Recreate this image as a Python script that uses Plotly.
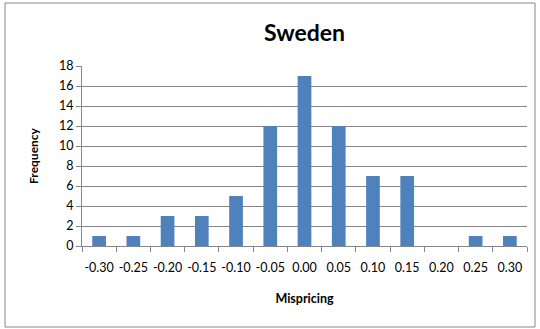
import plotly.graph_objects as go

categories = ["-0.30", "-0.25", "-0.20", "-0.15", "-0.10", "-0.05", "0.00",
              "0.05", "0.10", "0.15", "0.20", "0.25", "0.30"]
frequency = [1, 1, 3, 3, 5, 12, 17, 12, 7, 7, 0, 1, 1]
y_ticks = list(range(0, 19, 2))

W, H = 540, 329
L, R, T, B = 82, 13, 66, 83
pw, ph = W - L - R, H - T - B

def px_x(p):
    return (p - L) / pw

def px_y(p):
    return (H - B - p) / ph

font = "Lato, Carlito, 'Open Sans', sans-serif"

fig = go.Figure(go.Bar(x=categories, y=frequency, marker_color="#4F81BD",
                       marker_line_width=0))
fig.update_layout(
    width=W, height=H, margin=dict(l=L, r=R, t=T, b=B, autoexpand=False),
    paper_bgcolor="white", plot_bgcolor="white", bargap=0.6,
    showlegend=False,
    font=dict(family=font, size=12, color="black"),
    title=dict(text="<b>Sweden</b>", x=0.5, xref="paper", xanchor="center",
               y=1 - 33 / H, yanchor="middle", font=dict(size=23, family=font)),
    xaxis=dict(type="category", tickson="boundaries", ticks="outside", ticklen=5,
               tickcolor="#868686", showline=True, linecolor="#868686",
               showgrid=False, range=[-0.5, 12.5], tickangle=0, automargin=False,
               ticklabelstandoff=10,
               tickfont=dict(size=12.5), title=dict(text="<b>Mispricing</b>",
               font=dict(size=12.5), standoff=20)),
    yaxis=dict(range=[0, 18], tickvals=y_ticks, ticks="outside", ticklen=5,
               tickcolor="#868686", showline=True, linecolor="#868686",
               showgrid=True, gridcolor="#868686", gridwidth=1, zeroline=False,
               automargin=False,
               tickfont=dict(size=12.5), title=dict(text="<b>Frequency</b>",
               font=dict(size=12), standoff=17)),
)
fig.add_shape(type="rect", xref="paper", yref="paper",
              x0=px_x(5), x1=px_x(535), y0=px_y(327), y1=px_y(3),
              line=dict(color="#868686", width=1), fillcolor="rgba(0,0,0,0)",
              layer="below")
fig.write_html("out.html", config={"displayModeBar": False},
               post_script="document.body.style.margin='0';")
